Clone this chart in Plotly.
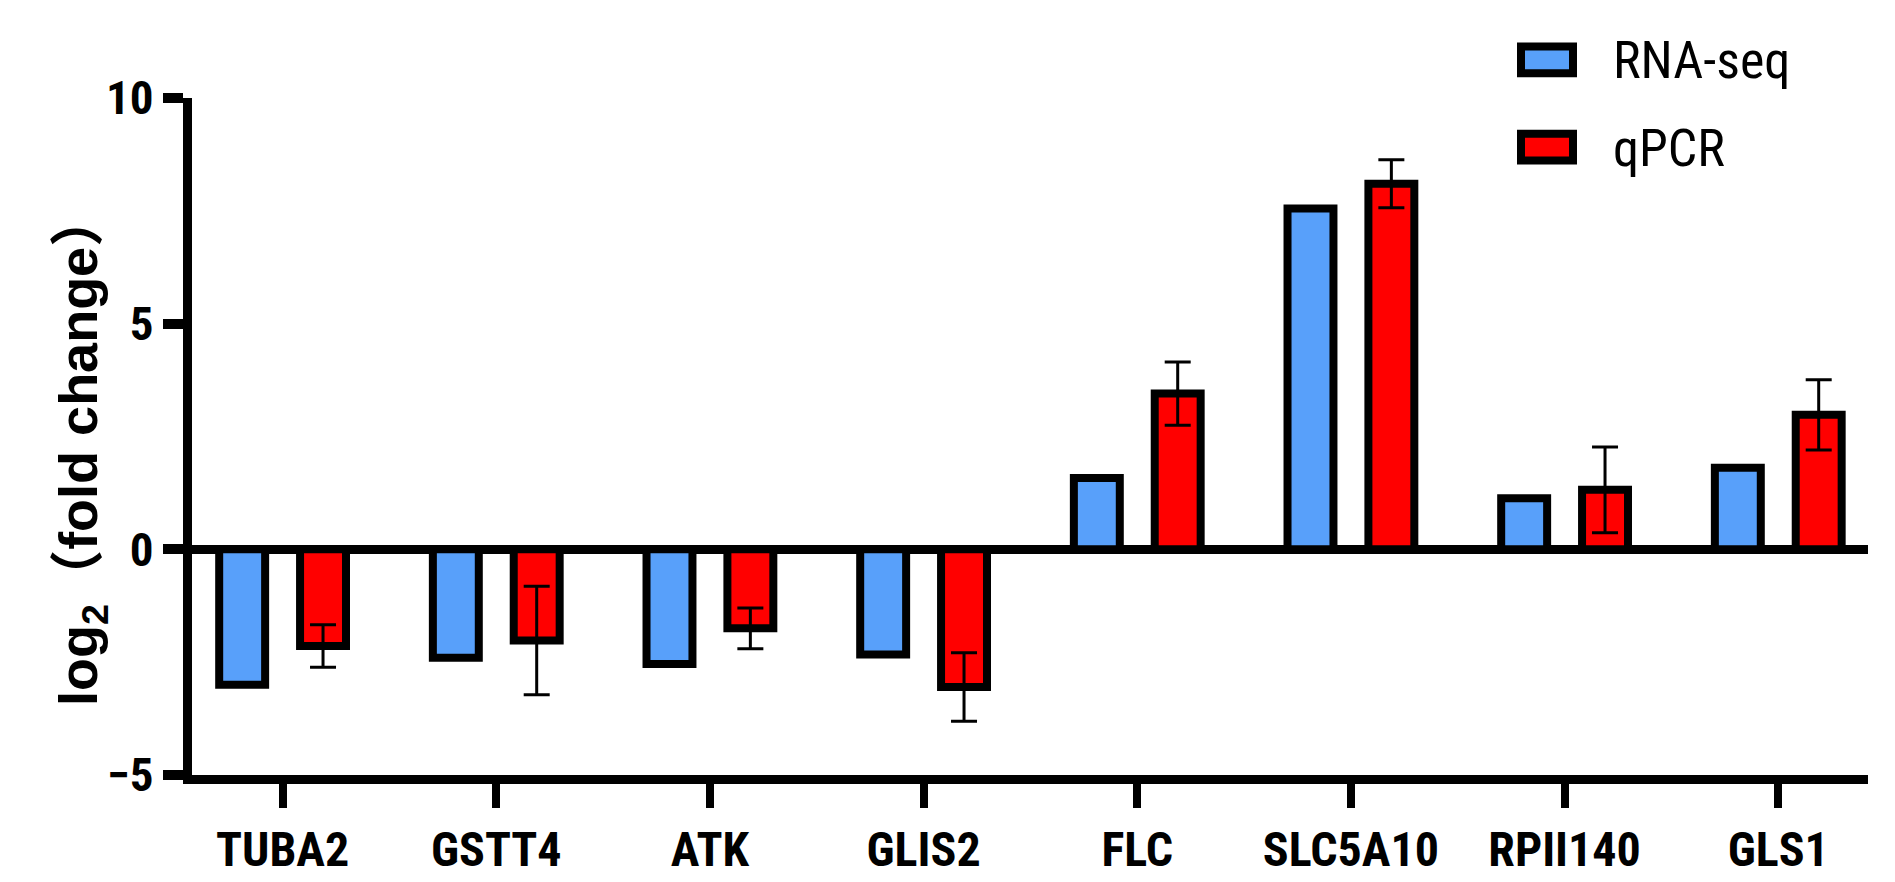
import plotly.graph_objects as go

# ---- data ----
genes = ["TUBA2", "GSTT4", "ATK", "GLIS2", "FLC", "SLC5A10", "RPII140", "GLS1"]
rnaseq = [-3.00, -2.40, -2.54, -2.33, 1.58, 7.55, 1.13, 1.81]
qpcr = [-2.14, -2.02, -1.75, -3.05, 3.45, 8.10, 1.32, 2.98]
qpcr_err = [0.47, 1.20, 0.45, 0.76, 0.70, 0.53, 0.95, 0.78]
y_ticks = [-5, 0, 5, 10]
y_ticktext = ["−5", "0", "5", "10"]
series_names = ["RNA-seq", "qPCR"]
series_colors = ["#58A0FA", "#FF0000"]

# ---- geometry (pixels) ----
W, H = 1895, 882
PL, PR, PT, PB = 184, 1860, 90, 773   # plot area edges

NARROW = "Roboto Condensed, Noto Sans Condensed, Liberation Sans Narrow, Liberation Sans"


def px(xp):
    return (xp - PL) / (PR - PL)


def py(yp):
    return (PB - yp) / (PB - PT)


fig = go.Figure()
fig.add_trace(go.Bar(
    x=genes, y=rnaseq, name=series_names[0],
    marker=dict(color=series_colors[0], line=dict(color="black", width=8)),
    showlegend=False,
))
fig.add_trace(go.Bar(
    x=genes, y=qpcr, name=series_names[1],
    marker=dict(color=series_colors[1], line=dict(color="black", width=8)),
    error_y=dict(type="data", array=qpcr_err, visible=True,
                 color="black", thickness=3, width=13),
    showlegend=False,
))

# custom legend (large outlined swatches)
shapes = []
annotations = []
legend_rows = [(38, 65, 52), (126, 153, 141)]
for (y0, y1, yc), name, col in zip(legend_rows, series_names, series_colors):
    shapes.append(dict(type="rect", xref="paper", yref="paper",
                       x0=px(1513), x1=px(1565), y0=py(y1), y1=py(y0),
                       fillcolor=col, line=dict(color="black", width=8)))
    annotations.append(dict(xref="paper", yref="paper", x=px(1603), y=py(yc),
                            xanchor="left", yanchor="middle", showarrow=False,
                            text=name,
                            font=dict(family=NARROW, size=52, color="black")))

# y-axis title
annotations.append(dict(xref="paper", yref="paper", x=px(74), y=py(445),
                        xanchor="center", yanchor="middle", showarrow=False,
                        textangle=-90,
                        text="log<sub>2</sub>（fold change）",
                        font=dict(family="Liberation Sans, Arial, Noto Sans CJK SC",
                                  size=54, color="black", weight="bold")))

fig.update_layout(
    width=W, height=H,
    margin=dict(l=PL, r=W - PR, t=PT, b=H - PB, pad=0),
    paper_bgcolor="white", plot_bgcolor="white",
    barmode="group", bargap=0.243, bargroupgap=0.432,
    shapes=shapes, annotations=annotations,
    font=dict(family="Liberation Sans, Arial", color="black"),
)
fig.update_xaxes(
    range=[-0.424, 7.42], showline=True, linecolor="black", linewidth=9,
    ticks="outside", ticklen=24, tickwidth=8, tickcolor="black",
    showgrid=False, zeroline=False,
    tickfont=dict(family=NARROW, size=48, color="black", weight="bold"),
)
fig.update_yaxes(
    range=[-5, 10], tickvals=y_ticks, ticktext=y_ticktext,
    showline=True, linecolor="black", linewidth=9,
    ticks="outside", ticklen=20, tickwidth=10, tickcolor="black",
    showgrid=False, zeroline=True, zerolinecolor="black", zerolinewidth=9,
    tickfont=dict(family=NARROW, size=47, color="black", weight="bold"),
)

fig.write_html("out.html")
